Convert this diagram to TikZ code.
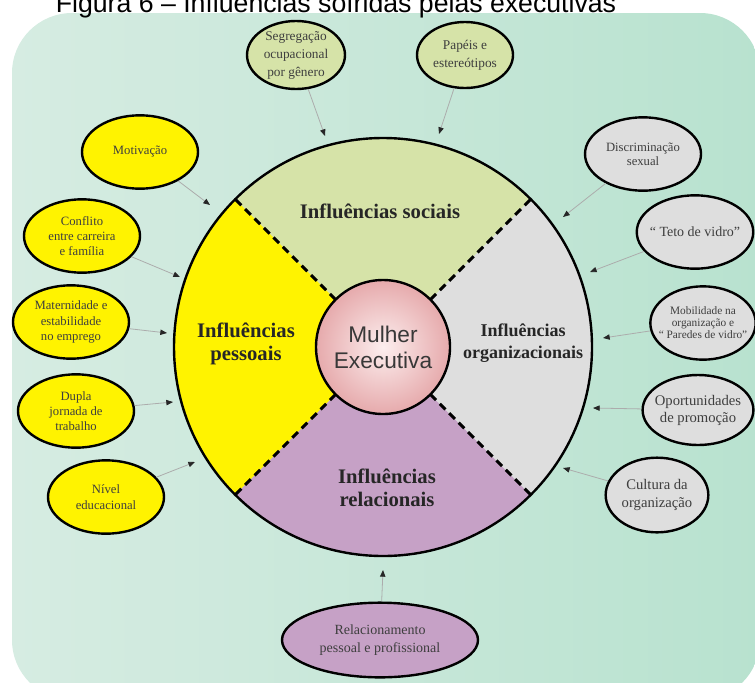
\documentclass[tikz,border=0pt]{standalone}
\usepackage{fontspec}
\setmainfont{Liberation Serif}
\setsansfont{Liberation Sans}
\usepackage{xcolor}
\definecolor{social}{RGB}{214,227,168}
\definecolor{pessoal}{RGB}{255,243,0}
\definecolor{organiz}{RGB}{222,222,222}
\definecolor{relac}{RGB}{198,161,198}
\definecolor{ink}{RGB}{62,62,62}
\definecolor{bgleft}{RGB}{214,236,226}
\definecolor{bgmid}{RGB}{236,245,241}
\definecolor{bgedge}{RGB}{184,226,207}
\definecolor{corein}{RGB}{252,238,238}
\definecolor{coreout}{RGB}{230,170,172}
\usetikzlibrary{arrows.meta,shapes.geometric}
\tikzset{
  bubble/.style={draw=black,line width=1.8pt,ellipse,inner sep=-3pt,align=center,%
    text=ink,font=\fontsize{9.5}{11.5}\selectfont,minimum width=87pt,minimum height=55pt},
  sector/.style={font=\bfseries\fontsize{15.5}{17.5}\selectfont,text=black!85,align=center},
  core/.style={circle,draw=black,line width=1.8pt,minimum size=100.5pt,inner sep=0pt,%
    inner color=corein,outer color=coreout,align=center,text=black!78,%
    font=\sffamily\fontsize{17}{19.5}\selectfont},
  divider/.style={line width=2.2pt,dash pattern=on 6pt off 4pt},
  flow/.style={-{Triangle[length=5pt,width=4pt,color=black!85]},draw=gray!65,line width=0.6pt},
}
\begin{document}
\begin{tikzpicture}[x=0.75pt,y=-0.75pt]
\useasboundingbox (0,0) rectangle (755,682);
% background panel and title
\path[left color=bgleft,middle color=bgmid,right color=bgedge,rounded corners=45pt]
  (12,13) rectangle (760,700);
\node[font=\sffamily\fontsize{20}{24}\selectfont,anchor=base] (title) at (336,12)
  {Figura 6 – Influências sofridas pelas executivas};
% the wheel (y axis points down: angle -90 is up)
\coordinate (c) at (383,347);
\fill[social] (c) -- ++(-45:209) arc[start angle=-45,end angle=-135,radius=209] -- cycle;
\fill[pessoal] (c) -- ++(-135:209) arc[start angle=-135,end angle=-225,radius=209] -- cycle;
\fill[relac] (c) -- ++(-225:209) arc[start angle=-225,end angle=-315,radius=209] -- cycle;
\fill[organiz] (c) -- ++(45:209) arc[start angle=45,end angle=-45,radius=209] -- cycle;
\foreach \a in {45,135,225,315}
  \draw[divider] (c) ++(\a:67) -- ++(\a:142);
\draw[line width=1.8pt] (c) circle[radius=209];
\node[core] (core) at (c) {Mulher\\Executiva};
\node[sector] (soc) at (380,211) {Influências sociais};
\node[sector] (pes) at (246,344) {Influências\\pessoais};
\node[sector,font=\bfseries\fontsize{13.5}{16}\selectfont] (org) at (523,343)
  {Influências\\organizacionais};
\node[sector] (rlc) at (387,488) {Influências\\relacionais};
% outer factors
\node[bubble,fill=social,minimum width=73.5pt,minimum height=51pt,%
  font=\fontsize{10}{13.5}\selectfont] (seg) at (296,55) {Segregação\\ocupacional\\por gênero};
\node[bubble,fill=social,minimum width=72pt,minimum height=49.5pt,%
  font=\fontsize{10}{13.5}\selectfont] (pap) at (465,55) {Papéis e\\estereótipos};
\node[bubble,fill=pessoal] (mot) at (140,152) {Motivação};
\node[bubble,fill=pessoal] (con) at (82,236) {Conflito\\entre carreira\\e família};
\node[bubble,fill=pessoal] (mat) at (71,322) {Maternidade e\\estabilidade\\no emprego};
\node[bubble,fill=pessoal] (dup) at (76,411) {Dupla\\jornada de\\trabalho};
\node[bubble,fill=pessoal] (niv) at (106,497) {Nível\\educacional};
\node[bubble,fill=organiz,font=\fontsize{9.5}{10.5}\selectfont] (dis) at (643,154)
  {Discriminação\\sexual};
\node[bubble,fill=organiz,font=\fontsize{10.5}{12}\selectfont] (teto) at (695,232)
  {“ Teto de vidro”};
\node[bubble,fill=organiz,inner sep=-6pt,minimum width=79pt,%
  font=\fontsize{8.5}{9}\selectfont] (mob) at (703,323)
  {Mobilidade na\\organização e\\“ Paredes de vidro”};
\node[bubble,fill=organiz,minimum width=82.5pt,minimum height=52.5pt,%
  font=\fontsize{11}{12.8}\selectfont] (opo) at (698,410) {Oportunidades\\de promoção};
\node[bubble,fill=organiz,minimum width=77pt,minimum height=56pt,%
  font=\fontsize{11}{12.8}\selectfont] (cul) at (657,495) {Cultura da\\organização};
\node[bubble,fill=relac,minimum width=147pt,minimum height=56pt,%
  font=\fontsize{10.5}{13.5}\selectfont] (rel) at (380,640)
  {Relacionamento\\pessoal e profissional};
% arrow tips
\coordinate (segT) at (325,136);
\coordinate (papT) at (439,134);
\coordinate (motT) at (210,205);
\coordinate (conT) at (180,277);
\coordinate (matT) at (167,333);
\coordinate (dupT) at (173,402);
\coordinate (nivT) at (195,462);
\coordinate (disT) at (563,217);
\coordinate (tetoT) at (590,272);
\coordinate (mobT) at (603,338);
\coordinate (opoT) at (593,408);
\coordinate (culT) at (563,468);
\coordinate (relT) at (383,570);
\draw[flow] (seg) -- (segT);
\draw[flow] (pap) -- (papT);
\draw[flow] (mot) -- (motT);
\draw[flow] (con) -- (conT);
\draw[flow] (mat) -- (matT);
\draw[flow] (dup) -- (dupT);
\draw[flow] (niv) -- (nivT);
\draw[flow] (dis) -- (disT);
\draw[flow] (teto) -- (tetoT);
\draw[flow] (mob) -- (mobT);
\draw[flow] (opo) -- (opoT);
\draw[flow] (cul) -- (culT);
\draw[flow] (rel) -- (relT);
\end{tikzpicture}
\end{document}
